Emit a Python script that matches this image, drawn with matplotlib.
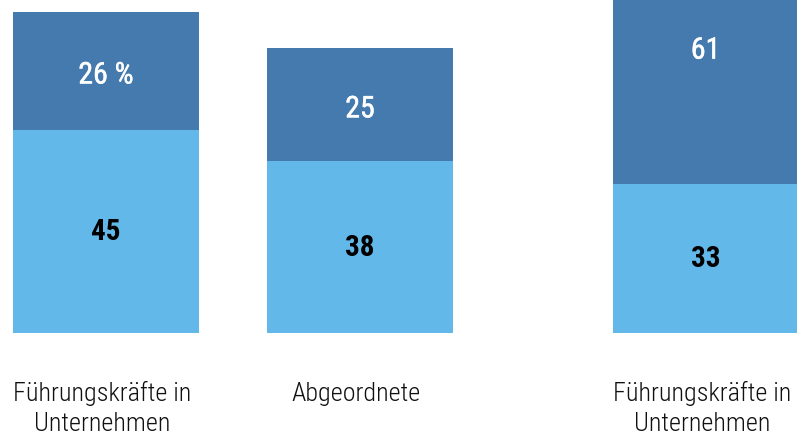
import matplotlib
matplotlib.use("Agg")
import matplotlib.pyplot as plt
import matplotlib.patheffects as pe

# Data
categories = ["Führungskräfte in\nUnternehmen", "Abgeordnete", "Führungskräfte in\nUnternehmen"]
lower_values = [45, 38, 33]   # light segment
upper_values = [26, 25, 61]   # dark segment
upper_labels = ["26 %", "25", "61"]
positions = [0, 1, 2.36]

plt.rcParams["font.family"] = ["Roboto Condensed", "DejaVu Sans"]

LIGHT = "#62B8E8"
DARK = "#457AAF"

fig = plt.figure(figsize=(7.97, 4.36), dpi=100)
ax = fig.add_axes([0, 0, 1, 1])
width = 0.732

ax.bar(positions, lower_values, width=width, color=LIGHT, linewidth=0)
ax.bar(positions, upper_values, width=width, bottom=lower_values, color=DARK, linewidth=0)

for x, lo, up, ulab in zip(positions, lower_values, upper_values, upper_labels):
    ax.text(x, lo / 2 - 0.2, str(lo), ha="center", va="center", fontsize=21,
            fontweight="bold", color="black")
    ax.text(x, lo + up / 2 - 1.0, ulab, ha="center", va="center", fontsize=21.5,
            fontweight="normal", color="white",
            path_effects=[pe.withStroke(linewidth=0.35, foreground="white")])

# category names under the bars, one baseline per line
baselines = [-15.15, -21.8]
for x, cat in zip(positions, categories):
    for line, yb in zip(cat.split("\n"), baselines):
        ax.text(x - 0.015, yb, line, ha="center", va="baseline", fontsize=18.8,
                fontweight="light", color="#111111")

ax.set_xlim(-0.417, 2.72)
ax.set_ylim(-22.8, 73.7)
ax.axis("off")

fig.savefig("out.png", dpi=100)
